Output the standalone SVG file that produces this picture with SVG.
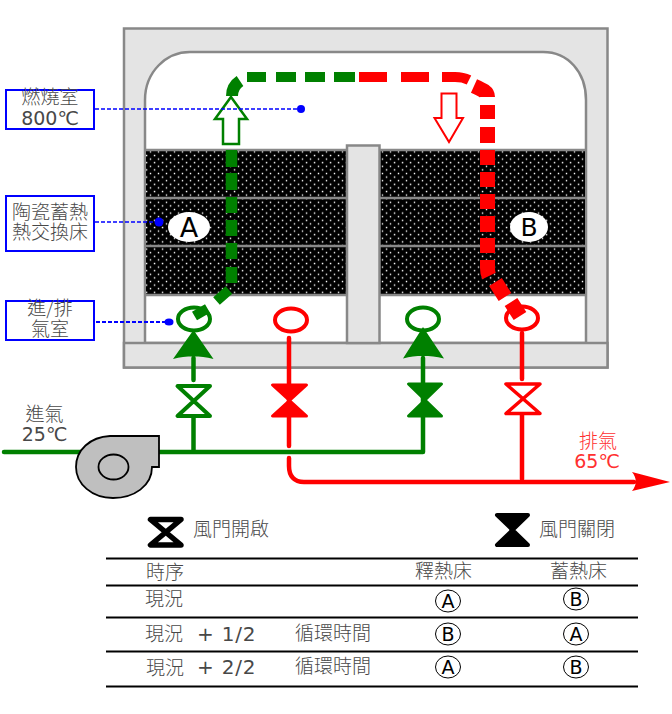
<svg xmlns="http://www.w3.org/2000/svg" width="672" height="714" viewBox="0 0 672 714">
<style>
text{font-family:"DejaVu Sans","Noto Sans CJK TC",sans-serif;fill:#484848;text-anchor:middle}
.cjk{font-family:"Noto Sans CJK TC","DejaVu Sans",sans-serif;font-weight:300}
.l{text-anchor:start}
.k{fill:#000}
.wall{fill:#e4e4e4;stroke:#888;stroke-width:2.5}
.lbl{fill:#fff;stroke:#0000ff;stroke-width:2}
.lead{stroke:#0000ff;stroke-dasharray:4 2;fill:none}
.g{stroke:#008000;fill:none}
.r{stroke:#ff0000;fill:none}
.rule{stroke:#000;stroke-width:2.2}
.badge{fill:#fff;stroke:#000;stroke-width:1}
</style>
<defs>
<pattern id="dots" x="146" y="146" width="8" height="7.200" patternUnits="userSpaceOnUse">
<rect width="8" height="7.200" fill="#000"/>
<rect x="3.800" y="5.200" width="1.400" height="1.400" fill="#fff"/>
<rect x="0" y="1.600" width="1.300" height="1.400" fill="#fff"/>
<rect x="7.800" y="1.600" width="0.200" height="1.400" fill="#fff"/>
</pattern>
</defs>
<g id="furnace">
<rect class="wall" x="124" y="28.500" width="483.500" height="339"/>
<path d="M145 343V100C145 72 166 52 190 52H543C568 52 586 72 586 100V343Z" fill="#fff" stroke="#888" stroke-width="2.500"/>
<rect x="124" y="343" width="483.500" height="24.500" class="wall"/>
</g>
<g id="bed-a">
<rect x="146" y="150" width="201" height="145" fill="url(#dots)"/>
<path d="M146 150H347M146 198H347M146 246H347M146 295H347" stroke="#888" stroke-width="2.500"/>
</g>
<g id="bed-b">
<rect x="379" y="150" width="206" height="145" fill="url(#dots)"/>
<path d="M379 150H585M379 198H585M379 246H585M379 295H585" stroke="#888" stroke-width="2.500"/>
</g>
<g id="pillar"><rect class="wall" x="347" y="145.500" width="32.500" height="197.500"/></g>
<g id="label-a"><ellipse cx="189" cy="227" rx="21" ry="15" fill="#fff"/><text class="k" x="189" y="237" font-size="27">A</text></g>
<g id="label-b"><ellipse cx="529" cy="227" rx="19" ry="15" fill="#fff"/><text class="k" x="529" y="236" font-size="25">B</text></g>
<g id="connectors">
<g id="air-flow">
<path class="g" stroke-width="11.500" d="M231.500 150V167M231.500 173V190M231.500 197V213M231.500 220V236M231.500 243V259M231.500 267V283"/>
<path class="g" stroke-width="10" d="M229 290L216.500 301M207.500 308.500L194.500 316M247 77H266M276 77H296M305 77H325M334 77H355"/>
<path class="g" stroke-width="12" d="M232 96C232 90 234 85 240 81"/>
<path class="r" stroke-width="10" d="M359 77H387M401 77H429M442 77H455C461 77 465 78 469 80"/>
<path class="r" stroke-width="15" d="M474 86C483 90 487.500 92 487.500 97M487.500 105V119M487.500 127V143M487.500 150V165M487.500 172V187M487.500 194V209M487.500 216V232M487.500 238V253M487.500 260V268C487.500 272 488 274 489 276M495.500 282L505 297M511 302L520 316"/>
<path d="M231 97L247 119H239V144H223V119H215Z" fill="#fff" stroke="#008000" stroke-width="2.500"/>
<path d="M441.500 93.500H456.500V118H463L449 142L434.500 118H441.500Z" fill="#fff" stroke="#ff0000" stroke-width="2"/>
</g>
<g id="leaders">
<path class="lead" stroke-width="1.600" d="M95 109H301M95 222H159"/>
<path class="lead" stroke-width="2" d="M96 322H169"/>
<circle cx="301" cy="109" r="4" fill="#0000ff"/>
<circle cx="159" cy="222" r="4.500" fill="#0000ff"/>
<ellipse cx="169" cy="322" rx="4.500" ry="3.500" fill="#0000ff"/>
</g>
<g id="green-lines">
<path class="g" stroke-width="4.500" stroke-linecap="round" stroke-linejoin="round" d="M4 452H423V358M193.500 452V417M193.500 380V358"/>
<path d="M193.500 330L213.500 359C206 357 200 356.500 193.500 356.500C186 356.500 180 357 173 359Z" fill="#008000"/>
<path d="M423 327L444 358.500C436 356.500 430 356 423 356C416 356 410 356.500 403 358.500Z" fill="#008000"/>
</g>
<g id="red-lines">
<path class="r" stroke-width="4.500" stroke-linecap="round" d="M289 338V446M289 458V466C289 476 294 482 304 482H634M522 333V379M522 414V479"/>
<path d="M632 472L670 482L632 491C637 485 637 478 632 472Z" fill="#ff0000"/>
</g>
</g>
<g id="fan"><path d="M159 436H110C90 437 76 450 76 467C76 484 92 498 113 498C134 498 152 486 152 467H159Z" fill="#bfbfbf" stroke="#000" stroke-width="1.800"/><ellipse cx="113.500" cy="467" rx="15" ry="12.500" fill="#bfbfbf" stroke="#000" stroke-width="1.800"/></g>
<g id="port-a-in"><ellipse cx="194" cy="319" rx="16" ry="11.500" fill="none" stroke="#008000" stroke-width="4"/></g>
<g id="port-a-out"><ellipse cx="291" cy="320" rx="16" ry="11.500" fill="none" stroke="#ff0000" stroke-width="4"/></g>
<g id="port-b-in"><ellipse cx="423" cy="319" rx="16" ry="11.500" fill="none" stroke="#008000" stroke-width="4"/></g>
<g id="port-b-out"><ellipse cx="522" cy="318" rx="16" ry="11.500" fill="none" stroke="#ff0000" stroke-width="4"/></g>
<g id="valve-a-in"><path d="M177.500 386H210L177.500 416H210Z" fill="#fff" stroke="#008000" stroke-width="4" stroke-linejoin="round"/></g>
<g id="valve-a-out"><path d="M272.500 385H306.500L272.500 416H306.500Z" fill="#ff0000" stroke="#ff0000" stroke-width="3" stroke-linejoin="round"/></g>
<g id="valve-b-in"><path d="M408.500 384H441.500L408.500 416H441.500Z" fill="#008000" stroke="#008000" stroke-width="3" stroke-linejoin="round"/></g>
<g id="valve-b-out"><path d="M506 384H540L506 413.500H540Z" fill="#fff" stroke="#ff0000" stroke-width="3.500" stroke-linejoin="round"/></g>
<g id="box-chamber"><rect class="lbl" x="6" y="90" width="88" height="39"/><text font-size="19"><tspan class="cjk" x="50" y="104">燃燒室</tspan><tspan x="50" y="125">800℃</tspan></text></g>
<g id="box-bed"><rect class="lbl" x="6" y="196" width="88" height="55"/><text class="cjk" font-size="19"><tspan x="50" y="219">陶瓷蓄熱</tspan><tspan x="50" y="239">熱交換床</tspan></text></g>
<g id="box-plenum"><rect class="lbl" x="6" y="301" width="88" height="39"/><text class="cjk" font-size="19"><tspan x="50" y="315">進/排</tspan><tspan x="50" y="336">氣室</tspan></text></g>
<g id="inlet-label"><text font-size="19"><tspan class="cjk" x="44.500" y="421">進氣</tspan><tspan x="44.500" y="441">25℃</tspan></text></g>
<g id="outlet-label"><text font-size="19" style="fill:#ff3030"><tspan class="cjk" x="598" y="448">排氣</tspan><tspan x="597" y="468">65℃</tspan></text></g>
<g id="legend-open"><path d="M150.500 519.500H181L150.500 545H181Z" fill="#fff" stroke="#000" stroke-width="5.500" stroke-linejoin="round"/><text class="cjk l" x="193" y="536" font-size="19">風門開啟</text></g>
<g id="legend-closed"><path d="M497 515H528L497 545H528Z" fill="#000" stroke="#000" stroke-width="4" stroke-linejoin="round"/><text class="cjk l" x="539" y="536" font-size="19">風門關閉</text></g>
<g id="table">
<path class="rule" d="M106 558.500H638M106 585.500H638M106 617.500H638M106 651.500H638M106 686.500H638"/>
<g font-size="19">
<text class="cjk l" x="146" y="579">時序</text>
<text class="cjk" x="443.500" y="578">釋熱床</text>
<text class="cjk" x="578.500" y="578">蓄熱床</text>
<text class="cjk l" x="145" y="606">現況</text>
<text class="cjk l" x="145" y="641">現況</text>
<text class="l" x="197" y="641" font-size="20" letter-spacing="0.800">+ 1/2</text>
<text class="cjk l" x="295" y="640">循環時間</text>
<text class="cjk l" x="146" y="675">現況</text>
<text class="l" x="197" y="674" font-size="20" letter-spacing="0.800">+ 2/2</text>
<text class="cjk l" x="295" y="673">循環時間</text>
</g>
<g font-size="19">
<ellipse class="badge" cx="448" cy="601" rx="12.500" ry="11"/><text class="k" x="448" y="608">A</text>
<ellipse class="badge" cx="576" cy="599" rx="12.500" ry="11"/><text class="k" x="576" y="606">B</text>
<ellipse class="badge" cx="448" cy="634" rx="12.500" ry="11"/><text class="k" x="448" y="641">B</text>
<ellipse class="badge" cx="576" cy="634" rx="12.500" ry="11"/><text class="k" x="576" y="641">A</text>
<ellipse class="badge" cx="448" cy="667" rx="12.500" ry="11"/><text class="k" x="448" y="674">A</text>
<ellipse class="badge" cx="576" cy="667" rx="12.500" ry="11"/><text class="k" x="576" y="674">B</text>
</g>
</g>
</svg>
